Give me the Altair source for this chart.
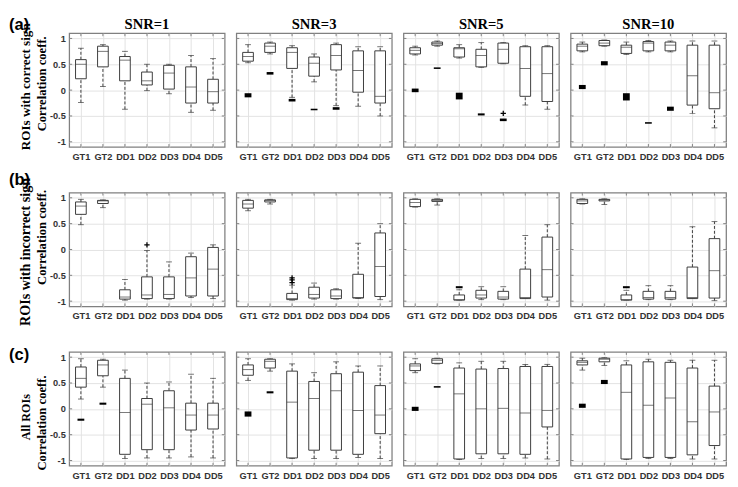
import altair as alt
import pandas as pd

CATS = ["GT1", "GT2", "DD1", "DD2", "DD3", "DD4", "DD5"]
SNRS = ["SNR=1", "SNR=3", "SNR=5", "SNR=10"]
ROW_KEYS = ["a", "b", "c"]
ROW_TAGS = ["(a)", "(b)", "(c)"]
ROW_TITLE1 = ["ROIs with correct sign", "ROIs with incorrect sign", "All ROIs"]
ROW_TITLE2 = "Correlation coeff."
YTICKS = [-1, -0.5, 0, 0.5, 1]

# ---- Row (a): ROIs with correct sign; one list of 7 values per SNR ----
A_LOW = [[-0.24, 0.07, -0.37, -0.01, -0.07, -0.43, -0.39],
         [0.53, 0.70, -0.14, 0.16, -0.30, -0.31, -0.50],
         [0.68, 0.85, 0.62, 0.44, 0.51, -0.29, -0.37],
         [0.74, 0.85, 0.69, 0.74, 0.74, -0.45, -0.73]]
A_Q1 = [[0.22, 0.45, 0.18, 0.10, 0.02, -0.25, -0.25],
        [0.56, 0.73, 0.42, 0.27, 0.39, -0.04, -0.25],
        [0.70, 0.87, 0.64, 0.45, 0.52, -0.12, -0.22],
        [0.76, 0.86, 0.71, 0.76, 0.76, -0.29, -0.36]]
A_MED = [[0.50, 0.75, 0.58, 0.18, 0.33, 0.06, -0.03],
         [0.65, 0.85, 0.73, 0.52, 0.67, 0.38, -0.12],
         [0.77, 0.90, 0.80, 0.67, 0.79, 0.42, 0.32],
         [0.85, 0.91, 0.83, 0.91, 0.87, 0.28, -0.05]]
A_Q3 = [[0.59, 0.85, 0.65, 0.35, 0.48, 0.45, 0.21],
        [0.73, 0.91, 0.82, 0.64, 0.88, 0.76, 0.76],
        [0.82, 0.93, 0.82, 0.79, 0.91, 0.84, 0.84],
        [0.89, 0.96, 0.87, 0.94, 0.93, 0.87, 0.87]]
A_HIGH = [[0.81, 0.88, 0.75, 0.50, 0.50, 0.67, 0.61],
          [0.88, 0.93, 0.86, 0.70, 0.91, 0.84, 0.84],
          [0.85, 0.95, 0.88, 0.92, 0.92, 0.86, 0.86],
          [0.93, 0.97, 0.93, 0.96, 0.95, 0.95, 0.95]]

# ---- Row (b): ROIs with incorrect sign ----
B_LOW = [[0.48, 0.81, -0.98, -0.96, -0.96, -0.93, -0.95],
         [0.75, 0.88, -0.98, -0.96, -0.96, -0.95, -0.97],
         [0.82, 0.86, -0.98, -0.97, -0.97, -0.95, -0.98],
         [0.88, 0.87, -0.98, -0.97, -0.97, -0.95, -0.99]]
B_Q1 = [[0.68, 0.89, -0.96, -0.95, -0.95, -0.90, -0.90],
        [0.80, 0.92, -0.97, -0.94, -0.95, -0.94, -0.91],
        [0.83, 0.93, -0.98, -0.94, -0.96, -0.95, -0.92],
        [0.89, 0.94, -0.98, -0.96, -0.96, -0.95, -0.94]]
B_MED = [[0.84, 0.94, -0.92, -0.88, -0.87, -0.55, -0.38],
         [0.88, 0.95, -0.95, -0.87, -0.90, -0.93, -0.33],
         [0.91, 0.95, -0.97, -0.88, -0.92, -0.93, -0.39],
         [0.94, 0.96, -0.97, -0.93, -0.93, -0.93, -0.41]]
B_Q3 = [[0.92, 0.95, -0.78, -0.53, -0.53, -0.14, 0.04],
        [0.95, 0.96, -0.85, -0.73, -0.78, -0.48, 0.32],
        [0.97, 0.97, -0.88, -0.79, -0.81, -0.38, 0.24],
        [0.97, 0.97, -0.88, -0.81, -0.81, -0.34, 0.21]]
B_HIGH = [[0.97, 0.96, -0.58, -0.02, -0.24, -0.07, 0.09],
          [0.97, 0.97, -0.69, -0.65, -0.76, 0.12, 0.50],
          [0.98, 0.98, -0.78, -0.72, -0.72, 0.27, 0.48],
          [0.98, 0.98, -0.79, -0.70, -0.70, 0.44, 0.54]]

# ---- Row (c): All ROIs ----
C_LOW = [[0.19, 0.42, -0.96, -0.95, -0.95, -0.93, -0.95],
         [0.55, 0.73, -0.96, -0.96, -0.96, -0.94, -0.96],
         [0.70, 0.87, -0.98, -0.96, -0.96, -0.95, -0.97],
         [0.75, 0.84, -0.98, -0.96, -0.96, -0.97, -0.97]]
C_Q1 = [[0.42, 0.64, -0.88, -0.79, -0.79, -0.41, -0.39],
        [0.65, 0.79, -0.95, -0.80, -0.80, -0.88, -0.48],
        [0.74, 0.88, -0.97, -0.87, -0.87, -0.88, -0.35],
        [0.85, 0.91, -0.97, -0.94, -0.94, -0.89, -0.71]]
C_MED = [[0.59, 0.85, -0.07, 0.09, 0.02, -0.12, -0.12],
         [0.76, 0.92, 0.13, 0.20, 0.35, -0.03, -0.12],
         [0.83, 0.94, 0.29, 0.00, 0.01, -0.08, -0.03],
         [0.90, 0.96, 0.32, 0.07, 0.21, -0.25, -0.06]]
C_Q3 = [[0.81, 0.94, 0.59, 0.20, 0.35, 0.11, 0.11],
        [0.85, 0.96, 0.73, 0.53, 0.68, 0.71, 0.45],
        [0.87, 0.97, 0.79, 0.77, 0.78, 0.82, 0.82],
        [0.93, 0.98, 0.85, 0.91, 0.90, 0.79, 0.44]]
C_HIGH = [[0.97, 0.96, 0.75, 0.50, 0.52, 0.67, 0.59],
          [0.97, 0.97, 0.87, 0.70, 0.91, 0.83, 0.83],
          [0.97, 0.98, 0.89, 0.92, 0.92, 0.86, 0.86],
          [0.98, 0.99, 0.93, 0.96, 0.94, 0.94, 0.94]]

# ---- clustered outliers (dense '+' stacks drawn as filled blocks) ----
OUT_ROW = ["a"] * 15 + ["b", "b"] + ["c"] * 8
OUT_SNR = (["SNR=3"] * 5 + ["SNR=5"] * 5 + ["SNR=10"] * 5 + ["SNR=5", "SNR=10"]
           + ["SNR=1"] * 2 + ["SNR=3"] * 2 + ["SNR=5"] * 2 + ["SNR=10"] * 2)
OUT_CAT = (["GT1", "GT2", "DD1", "DD2", "DD3"] * 3 + ["DD1", "DD1"] + ["GT1", "GT2"] * 4)
OUT_LO = [-0.14, 0.30, -0.22, -0.39, -0.38,
          -0.04, 0.41, -0.18, -0.49, -0.60,
          0.02, 0.48, -0.20, -0.65, -0.40,
          -0.75, -0.75,
          -0.23, 0.08, -0.15, 0.30, -0.04, 0.41, 0.02, 0.48]
OUT_HI = [-0.06, 0.35, -0.17, -0.36, -0.33,
          0.03, 0.44, -0.05, -0.45, -0.55,
          0.10, 0.56, -0.06, -0.62, -0.32,
          -0.71, -0.71,
          -0.19, 0.12, -0.05, 0.34, 0.04, 0.44, 0.10, 0.56]

# ---- single '+' outliers ----
PLUS_ROW = ["a", "b", "b", "b", "b"]
PLUS_SNR = ["SNR=5", "SNR=1", "SNR=3", "SNR=3", "SNR=3"]
PLUS_CAT = ["DD3", "DD2", "DD1", "DD1", "DD1"]
PLUS_VAL = [-0.45, 0.09, -0.55, -0.59, -0.64]

STATS = {"a": (A_LOW, A_Q1, A_MED, A_Q3, A_HIGH),
         "b": (B_LOW, B_Q1, B_MED, B_Q3, B_HIGH),
         "c": (C_LOW, C_Q1, C_MED, C_Q3, C_HIGH)}

recs = []
for rk in ROW_KEYS:
    lows, q1s, meds, q3s, highs = STATS[rk]
    for si, snr in enumerate(SNRS):
        for ci, cat in enumerate(CATS):
            recs.append(dict(row=rk, snr=snr, cat=cat, low=lows[si][ci], q1=q1s[si][ci],
                             med=meds[si][ci], q3=q3s[si][ci], high=highs[si][ci]))
box_df = pd.DataFrame(recs)
out_df = pd.DataFrame(dict(row=OUT_ROW, snr=OUT_SNR, cat=OUT_CAT, lo=OUT_LO, hi=OUT_HI))
plus_df = pd.DataFrame(dict(row=PLUS_ROW, snr=PLUS_SNR, cat=PLUS_CAT, v=PLUS_VAL))
ytick_df = pd.DataFrame({"v": YTICKS})

W, H = 160, 117
BOXC = "#3a3a3a"
GRID = "#e2e2e2"
FRAME = "#808080"
LABC = "#333333"
TAG_Y = [-8, -13, 3]
T1_Y = [55, 61, 67]
T1_SIZE = [13.5, 14.5, 12.5]
T2_Y = [52, 46, 73]
BOUND_TOP = [-17, -22, -22]
BOUND_BOT = [H + 21, H + 21, H + 16]

xscale = alt.Scale(type="point", domain=CATS, padding=0.53)
yscale = alt.Scale(domain=[-1.1, 1.1], nice=False, zero=False)
xaxis = alt.Axis(title=None, labelAngle=0, labelFont="Liberation Sans", labelFontWeight="bold",
                 labelFontSize=9.5, labelColor=LABC, labelPadding=5, ticks=False, domain=False,
                 grid=True, gridColor=GRID, gridWidth=1)


def yax(first):
    return alt.Axis(title=None, values=YTICKS, labelExpr="datum.value", labels=first,
                    labelFont="Liberation Sans", labelFontWeight="bold", labelFontSize=9.5,
                    labelColor=LABC, labelPadding=4, ticks=False, domain=False,
                    grid=True, gridColor=GRID, gridWidth=1)


def one(text):
    return alt.Chart(pd.DataFrame({"t": [text]}))


def panel(ri, si):
    rk, snr = ROW_KEYS[ri], SNRS[si]
    first = si == 0
    ya = yax(first)
    d = box_df[(box_df.row == rk) & (box_df.snr == snr)]
    X = alt.X("cat:N", sort=CATS, scale=xscale, axis=xaxis)
    base = alt.Chart(d).encode(x=X)

    def Y(f):
        return alt.Y(f + ":Q", scale=yscale, axis=ya)

    layers = [
        # white spacer rules outside the plot so every row has the same vertical extent
        one("").mark_rule(color="white", strokeWidth=1).encode(
            x=alt.value(W - 0.5), y=alt.value(BOUND_TOP[ri]), y2=alt.value(-2)),
        one("").mark_rule(color="white", strokeWidth=1).encode(
            x=alt.value(W - 0.5), y=alt.value(H + 2), y2=alt.value(BOUND_BOT[ri])),
        # small inside ticks on the frame
        base.mark_rule(color=FRAME, strokeWidth=1).encode(y=alt.value(0), y2=alt.value(3)),
        base.mark_rule(color=FRAME, strokeWidth=1).encode(y=alt.value(H), y2=alt.value(H - 3)),
        alt.Chart(ytick_df).mark_rule(color=FRAME, strokeWidth=1).encode(
            y=Y("v"), x=alt.value(0), x2=alt.value(3)),
        alt.Chart(ytick_df).mark_rule(color=FRAME, strokeWidth=1).encode(
            y=Y("v"), x=alt.value(W), x2=alt.value(W - 3)),
        # boxes
        base.mark_rule(color=BOXC, strokeDash=[3, 2], strokeWidth=1).encode(y=Y("q3"), y2="high:Q"),
        base.mark_rule(color=BOXC, strokeDash=[3, 2], strokeWidth=1).encode(y=Y("low"), y2="q1:Q"),
        base.mark_tick(color=BOXC, size=6, thickness=1).encode(y=Y("high")),
        base.mark_tick(color=BOXC, size=6, thickness=1).encode(y=Y("low")),
        base.mark_bar(size=11, fill="white", stroke=BOXC, strokeWidth=1).encode(y=Y("q1"), y2="q3:Q"),
        base.mark_tick(color=BOXC, size=11, thickness=1).encode(y=Y("med")),
    ]
    od = out_df[(out_df.row == rk) & (out_df.snr == snr)]
    if len(od):
        layers.append(alt.Chart(od).mark_bar(size=7, color="black").encode(
            x=X, y=Y("lo"), y2="hi:Q"))
    pdf = plus_df[(plus_df.row == rk) & (plus_df.snr == snr)]
    if len(pdf):
        layers.append(alt.Chart(pdf).mark_point(shape="M-1,0H1M0,-1V1", size=30, filled=False,
                                                color="black", strokeWidth=1.3, opacity=1).encode(
            x=X, y=Y("v")))
    if ri == 0:
        layers.append(one(snr).mark_text(
            font="Liberation Serif", fontWeight="bold", fontSize=15, align="center",
            baseline="alphabetic", color="black").encode(text="t:N", x=alt.value(W / 2), y=alt.value(-4)))
    if first:
        layers.append(one(ROW_TAGS[ri]).mark_text(
            font="Liberation Sans", fontWeight="bold", fontSize=17, align="left", baseline="middle",
            color="black").encode(text="t:N", x=alt.value(-62), y=alt.value(TAG_Y[ri])))
        layers.append(one(ROW_TITLE1[ri]).mark_text(
            font="Liberation Serif", fontWeight="bold", fontSize=T1_SIZE[ri], angle=270, align="center",
            baseline="middle", color="black").encode(text="t:N", x=alt.value(-44), y=alt.value(T1_Y[ri])))
        layers.append(one(ROW_TITLE2).mark_text(
            font="Liberation Serif", fontWeight="bold", fontSize=13, angle=270, align="center",
            baseline="middle", color="black").encode(text="t:N", x=alt.value(-28), y=alt.value(T2_Y[ri])))
    return alt.layer(*layers).properties(width=W, height=H)


rows = [alt.hconcat(*[panel(ri, si) for si in range(4)], spacing=8) for ri in range(3)]
chart = alt.vconcat(*rows, spacing=0).properties(
    padding={"left": 0, "top": 0, "right": 2, "bottom": 0}
).configure_view(stroke=FRAME, strokeWidth=1.3)

chart.save("out.html", embed_options={"renderer": "svg", "actions": False})
